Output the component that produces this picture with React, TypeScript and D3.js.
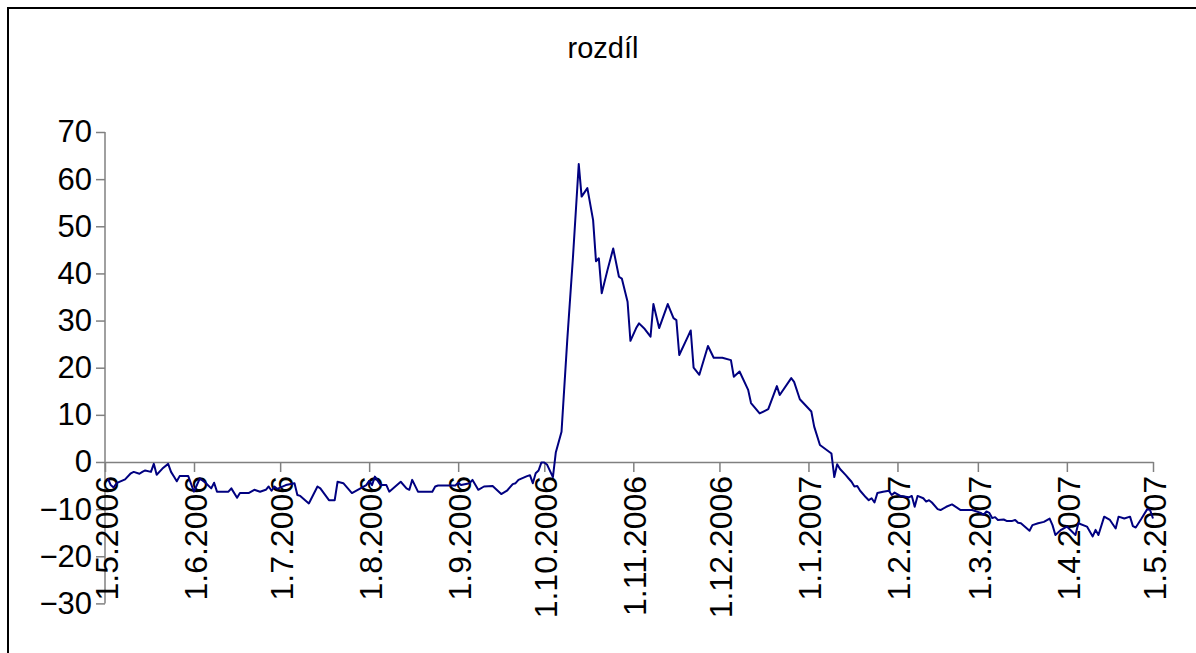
import React, { useEffect, useRef } from 'react';
import * as d3 from 'd3';

const chartTitle = 'rozdíl';
const startDate = new Date(2006, 4, 1);
const endDate = new Date(2007, 4, 1);
const yTicks = [-30, -20, -10, 0, 10, 20, 30, 40, 50, 60, 70];

// days since 1.5.2006
const dayOffsets = [
  1, 2, 3, 4, 7, 9, 10, 12, 13, 14,
  16, 17, 18, 20, 22, 23, 24, 25, 26, 29,
  30, 31, 33, 35, 37, 38, 39, 43, 44, 46,
  47, 50, 52, 54, 56, 57, 58, 59, 60, 63,
  66, 67, 68, 71, 74, 75, 78, 80, 81, 83,
  86, 91, 92, 93, 94, 96, 98, 99, 103, 105,
  106, 107, 109, 114, 115, 116, 122, 123, 124, 127,
  128, 130, 132, 135, 138, 140, 142, 143, 144, 147,
  148, 149, 150, 151, 152, 153, 154, 156, 157, 159,
  161, 163, 165, 166, 168, 170, 171, 172, 173, 175,
  177, 179, 180, 182, 183, 185, 186, 188, 190, 191,
  193, 194, 196, 198, 199, 200, 203, 204, 205, 207,
  210, 212, 215, 218, 219, 221, 224, 225, 228, 231,
  234, 235, 239, 240, 242, 246, 247, 249, 253, 254,
  255, 256, 258, 259, 260, 261, 262, 263, 265, 266,
  267, 268, 269, 271, 273, 274, 275, 277, 280, 281,
  282, 283, 285, 286, 287, 288, 290, 291, 293, 295,
  298, 302, 305, 306, 307, 308, 309, 310, 311, 313,
  314, 316, 317, 318, 319, 322, 323, 325, 327, 329,
  330, 331, 333, 335, 338, 339, 342, 344, 345, 346,
  348, 350, 352, 353, 355, 357, 358, 359, 361, 363,
  364, 365,
];

const rozdil = [
  -3.5, -4.9, -5.4, -4.5, -3.7, -2.4, -2.1, -2.5, -2.1, -1.8,
  -2.1, -0.4, -2.7, -1.4, -0.4, -2.1, -3.1, -4.1, -3.0, -3.0,
  -4.7, -6.3, -3.5, -4.4, -5.6, -4.4, -6.3, -6.3, -5.6, -7.6,
  -6.6, -6.6, -5.9, -6.3, -5.9, -5.2, -6.1, -5.2, -5.7, -4.9,
  -4.5, -7.0, -7.2, -8.8, -5.2, -5.6, -8.1, -8.1, -4.2, -4.5,
  -6.6, -4.9, -4.0, -4.9, -3.1, -4.9, -4.9, -6.3, -4.2, -5.6,
  -5.9, -3.8, -6.3, -6.3, -5.2, -5.0, -5.0, -4.4, -4.9, -4.5,
  -3.8, -5.9, -5.2, -5.1, -6.8, -6.1, -4.7, -4.5, -3.8, -3.0,
  -2.8, -4.5, -2.4, -1.8, -0.1, -0.1, -0.6, -3.2, 2.0, 6.4,
  25.9, 43.6, 63.2, 56.3, 58.1, 51.3, 42.6, 43.2, 35.8, 40.7,
  45.3, 39.3, 38.9, 34.0, 25.7, 28.4, 29.4, 28.2, 26.6, 33.5,
  28.4, 30.1, 33.5, 30.5, 30.1, 22.7, 26.6, 27.9, 20.0, 18.5,
  24.6, 22.1, 22.1, 21.6, 18.1, 19.2, 15.3, 12.5, 10.3, 11.2,
  16.1, 14.2, 17.8, 17.0, 13.3, 10.7, 7.5, 3.6, 1.8, -3.2,
  -0.5, -1.5, -2.8, -3.5, -4.2, -5.2, -5.1, -6.1, -7.5, -8.1,
  -7.7, -8.6, -6.6, -6.3, -6.1, -7.0, -6.5, -7.2, -7.5, -7.2,
  -9.5, -7.2, -7.7, -8.4, -8.1, -8.6, -10.0, -10.2, -9.5, -9.0,
  -10.2, -10.2, -10.8, -11.2, -10.5, -10.8, -11.9, -11.7, -12.3, -12.2,
  -12.5, -12.5, -12.3, -12.9, -13.0, -14.6, -13.4, -13.0, -12.7, -12.0,
  -13.4, -15.5, -14.4, -13.7, -15.5, -13.0, -13.7, -15.8, -14.4, -15.5,
  -11.6, -12.3, -14.1, -11.6, -12.0, -11.6, -13.6, -13.9, -12.0, -10.0,
  -10.2, -12.0,
];

const W = 1196;
const H = 653;
const FONT = '"Liberation Sans", Arial, sans-serif';

const App = () => {
  const svgRef = useRef(null);

  useEffect(() => {
    const svg = d3.select(svgRef.current);
    svg.selectAll('*').remove();

    const x = d3.scaleTime().domain([startDate, endDate]).range([105, 1153]);
    const y = d3.scaleLinear().domain([-30, 70]).range([603.4, 132]);

    const data = dayOffsets.map((d, i) => ({ date: d3.timeDay.offset(startDate, d), v: rozdil[i] }));

    svg.append('rect').attr('width', W).attr('height', H).attr('fill', '#fff');

    // outer frame
    svg.append('path')
      .attr('d', `M8,${H + 5}V8H${W + 5}`)
      .attr('fill', 'none')
      .attr('stroke', '#000')
      .attr('stroke-width', 2);

    svg.append('text')
      .text(chartTitle)
      .attr('x', 603)
      .attr('y', 58)
      .attr('text-anchor', 'middle')
      .style('font-family', FONT)
      .style('font-size', '29px');

    // y axis
    const yAxis = svg.append('g').attr('transform', 'translate(105,0)')
      .call(d3.axisLeft(y).tickValues(yTicks).tickSize(9).tickPadding(4).tickFormat(d3.format('d')));
    yAxis.selectAll('path, line').attr('stroke', '#808080').attr('stroke-width', 1.5);
    yAxis.select('.domain').attr('d', `M0,${y(-30)}V${y(70)}`);
    yAxis.selectAll('text')
      .attr('fill', '#000')
      .style('font-family', FONT)
      .style('font-size', '31px');

    // x axis at zero
    const months = d3.timeMonth.range(startDate, d3.timeDay.offset(endDate, 1));
    const xAxis = svg.append('g').attr('transform', `translate(0,${y(0)})`)
      .call(d3.axisBottom(x).tickValues(months).tickSize(10).tickSizeOuter(0)
        .tickFormat((d) => `${d.getDate()}.${d.getMonth() + 1}.${d.getFullYear()}`));
    xAxis.selectAll('path, line').attr('stroke', '#808080').attr('stroke-width', 1.5);
    xAxis.selectAll('text')
      .attr('fill', '#000')
      .attr('transform', 'rotate(-90)')
      .attr('text-anchor', 'end')
      .attr('x', -14)
      .attr('y', 1)
      .attr('dy', '0.35em')
      .style('font-family', FONT)
      .style('font-size', '32px');

    const line = d3.line().x((d) => x(d.date)).y((d) => y(d.v));
    svg.append('path')
      .datum(data)
      .attr('d', line)
      .attr('fill', 'none')
      .attr('stroke', '#000080')
      .attr('stroke-width', 2)
      .attr('stroke-linejoin', 'round');
  }, []);

  return (
    <svg ref={svgRef} width={W} height={H} style={{ position: 'absolute', left: 0, top: 0 }} />
  );
};

export default App;
